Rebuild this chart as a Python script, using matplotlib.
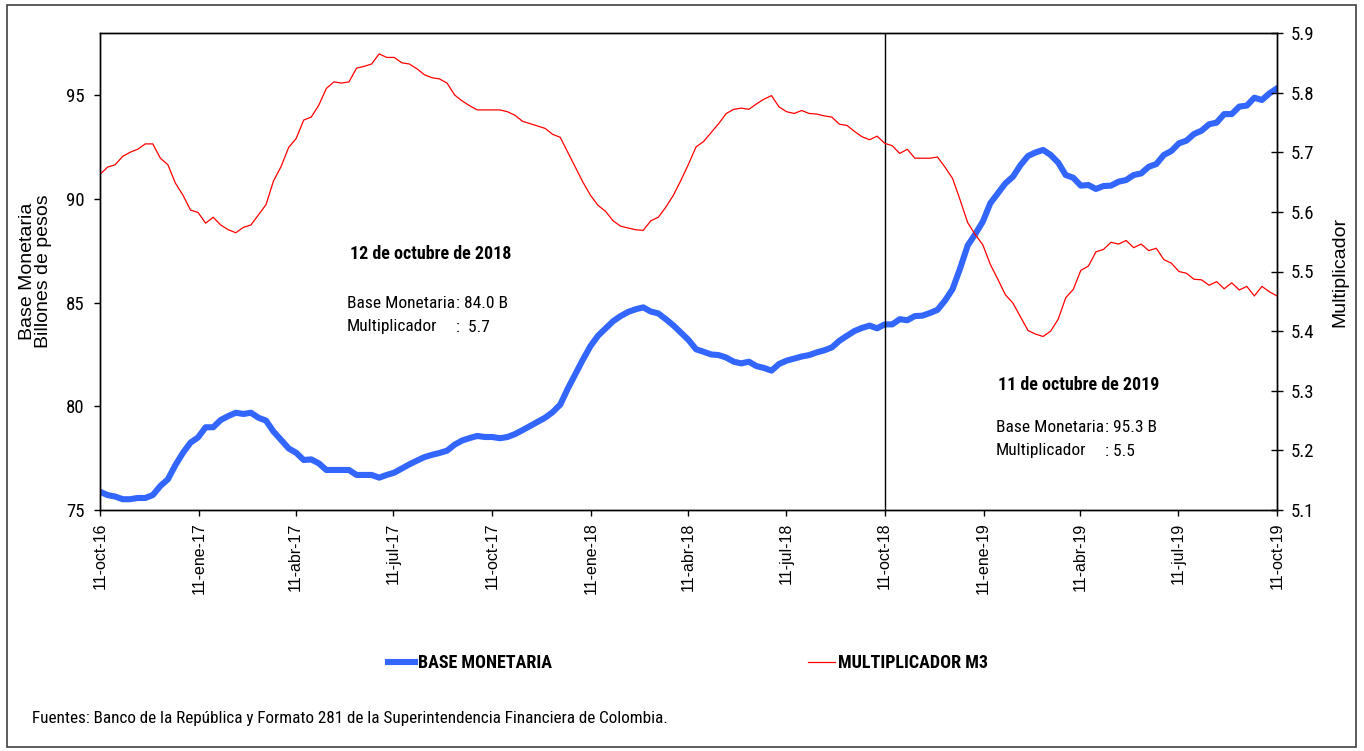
import matplotlib
matplotlib.use("Agg")
import pandas as pd
import matplotlib.pyplot as plt
from matplotlib.patches import Rectangle

# Base monetaria (billones de pesos), semanal oct-16 a oct-19
base_monetaria = [
    75.88, 75.72, 75.65, 75.52, 75.52, 75.58, 75.58, 75.72, 76.16, 76.48,
    77.17, 77.76, 78.25, 78.50, 78.99, 78.99, 79.34, 79.53, 79.69, 79.63,
    79.69, 79.45, 79.31, 78.78, 78.38, 77.97, 77.76, 77.41, 77.44, 77.25,
    76.93, 76.93, 76.93, 76.93, 76.69, 76.69, 76.69, 76.56, 76.69,
    76.80, 77.00, 77.20, 77.38, 77.55, 77.66, 77.75, 77.86, 78.15, 78.35,
    78.47, 78.57, 78.52, 78.52, 78.46, 78.52, 78.66, 78.85, 79.05, 79.25,
    79.45, 79.72, 80.08, 80.85, 81.55, 82.25, 82.90, 83.40, 83.75, 84.10,
    84.35, 84.55, 84.68, 84.77, 84.57, 84.48, 84.20, 83.90, 83.55,
    83.20, 82.75, 82.63, 82.50, 82.47, 82.35, 82.15, 82.07, 82.15, 81.94,
    81.85, 81.72, 82.04, 82.20, 82.30, 82.40, 82.47, 82.60, 82.70, 82.84,
    83.16, 83.40, 83.63, 83.78, 83.89, 83.76, 83.95, 83.95, 84.20, 84.15,
    84.35, 84.37, 84.50, 84.65, 85.10, 85.65, 86.65, 87.75, 88.30,
    88.90, 89.79, 90.27, 90.75, 91.07, 91.63, 92.07, 92.24, 92.36, 92.12,
    91.75, 91.15, 91.02, 90.64, 90.67, 90.48, 90.62, 90.64, 90.83, 90.91,
    91.15, 91.23, 91.55, 91.68, 92.12, 92.31, 92.68, 92.81, 93.13, 93.29,
    93.60, 93.68, 94.09, 94.09, 94.45, 94.50, 94.88, 94.77, 95.09, 95.33,
]

# Multiplicador M3
multiplicador = [
    5.663, 5.675, 5.679, 5.693, 5.700, 5.705, 5.714, 5.714, 5.690, 5.679,
    5.648, 5.628, 5.603, 5.599, 5.581, 5.591, 5.578, 5.570, 5.565, 5.574,
    5.578, 5.595, 5.612, 5.652, 5.676, 5.708, 5.723, 5.754, 5.759, 5.779,
    5.807, 5.818, 5.816, 5.818, 5.841, 5.844, 5.848, 5.865, 5.859,
    5.859, 5.850, 5.848, 5.840, 5.830, 5.825, 5.823, 5.816, 5.796, 5.786,
    5.778, 5.771, 5.771, 5.771, 5.771, 5.768, 5.762, 5.752, 5.748, 5.744,
    5.740, 5.730, 5.725, 5.700, 5.675, 5.650, 5.628, 5.611, 5.601, 5.585,
    5.576, 5.573, 5.570, 5.569, 5.585, 5.591, 5.608, 5.628, 5.653,
    5.680, 5.709, 5.718, 5.733, 5.748, 5.765, 5.772, 5.774, 5.772, 5.781,
    5.789, 5.795, 5.776, 5.768, 5.765, 5.770, 5.765, 5.764, 5.761, 5.759,
    5.747, 5.745, 5.735, 5.726, 5.721, 5.727, 5.715, 5.711, 5.698, 5.705,
    5.690, 5.690, 5.690, 5.692, 5.675, 5.656, 5.620, 5.582, 5.562,
    5.545, 5.512, 5.487, 5.461, 5.447, 5.424, 5.401, 5.395, 5.391, 5.400,
    5.420, 5.456, 5.470, 5.502, 5.509, 5.533, 5.537, 5.549, 5.546, 5.552,
    5.540, 5.546, 5.535, 5.539, 5.520, 5.514, 5.500, 5.497, 5.487, 5.486,
    5.477, 5.483, 5.471, 5.481, 5.469, 5.475, 5.459, 5.475, 5.466, 5.459,
]

tick_dates = ["2016-10-11", "2017-01-11", "2017-04-11", "2017-07-11",
              "2017-10-11", "2018-01-11", "2018-04-11", "2018-07-11",
              "2018-10-11", "2019-01-11", "2019-04-11", "2019-07-11",
              "2019-10-11"]
tick_labels = ["11-oct-16", "11-ene-17", "11-abr-17", "11-jul-17",
               "11-oct-17", "11-ene-18", "11-abr-18", "11-jul-18",
               "11-oct-18", "11-ene-19", "11-abr-19", "11-jul-19",
               "11-oct-19"]

fecha_corte = "2018-10-11"

NARROW = ["Roboto Condensed", "Liberation Sans", "DejaVu Sans"]
REGULAR = ["Liberation Sans", "DejaVu Sans"]

BLUE = "#3366ff"
RED = "#ff0000"

W, H = 1364, 751


def fx(px):
    return px / W


def fy(py):
    return 1 - py / H


fechas = pd.date_range("2016-10-11", "2019-10-11", periods=len(base_monetaria))

fig = plt.figure(figsize=(W / 100, H / 100), dpi=100)
ax = fig.add_axes([fx(100), fy(510), fx(1277) - fx(100), fy(33) - fy(510)])
ax2 = ax.twinx()

l1, = ax.plot(fechas, base_monetaria, color=BLUE, lw=4.4,
              solid_joinstyle="round", label="BASE MONETARIA")
l2, = ax2.plot(fechas, multiplicador, color=RED, lw=0.9,
               label="MULTIPLICADOR M3")
ax.axvline(pd.Timestamp(fecha_corte), color="black", lw=1.0)

ax.set_xlim(pd.Timestamp("2016-10-11"), pd.Timestamp("2019-10-11"))
ax.set_ylim(75, 98)
ax2.set_ylim(5.1, 5.9)

ax.set_yticks([75, 80, 85, 90, 95])
ax2.set_yticks([5.1, 5.2, 5.3, 5.4, 5.5, 5.6, 5.7, 5.8, 5.9])
ax2.set_yticklabels(["5.1", "5.2", "5.3", "5.4", "5.5", "5.6", "5.7", "5.8", "5.9"])
ax.set_xticks(pd.to_datetime(tick_dates))
ax.set_xticklabels(tick_labels, rotation=90, family=REGULAR, fontsize=11.5)

ax.tick_params(axis="y", direction="out", length=4, width=1, pad=7)
ax.tick_params(axis="x", direction="out", length=4, width=1, pad=5)
ax2.tick_params(axis="y", direction="inout", length=8, width=1, pad=6)
for lab in ax.get_yticklabels() + ax2.get_yticklabels():
    lab.set_family(NARROW)
    lab.set_fontsize(13.5)

for a in (ax, ax2):
    for s in a.spines.values():
        s.set_linewidth(1.0)
        s.set_color("black")

ax.set_ylabel("Base Monetaria\nBillones de pesos", family=REGULAR,
              fontsize=14, linespacing=0.95, labelpad=10)
ax2.set_ylabel("Multiplicador", family=REGULAR, fontsize=14, labelpad=12)

# anotaciones de fechas de corte
TXT = dict(family=NARROW, fontsize=12.5, va="center")
fig.text(fx(350), fy(254), "12 de octubre de 2018", family=NARROW,
         fontsize=13, va="center", fontweight="bold")
fig.text(fx(347), fy(303), "Base Monetaria", **TXT)
fig.text(fx(456), fy(303), ": 84.0 B", **TXT)
fig.text(fx(347), fy(327), "Multiplicador", **TXT)
fig.text(fx(456), fy(327), ":  5.7", **TXT)

fig.text(fx(998), fy(385), "11 de octubre de 2019", family=NARROW,
         fontsize=13, va="center", fontweight="bold")
fig.text(fx(996), fy(427), "Base Monetaria", **TXT)
fig.text(fx(1105), fy(427), ": 95.3 B", **TXT)
fig.text(fx(996), fy(451), "Multiplicador", **TXT)
fig.text(fx(1105), fy(451), ": 5.5", **TXT)

fig.legend(handles=[l1, l2], loc="center left", bbox_to_anchor=(fx(388), fy(663)),
           ncol=2, frameon=False, handlelength=1.5, handletextpad=0.15,
           columnspacing=14.2, borderpad=0, borderaxespad=0,
           prop={"family": NARROW, "weight": "bold", "size": 13})

fig.text(fx(32), fy(718),
         "Fuentes: Banco de la República y Formato 281 de la Superintendencia "
         "Financiera de Colombia.", family=NARROW, fontsize=12.3, va="center")

fig.patches.append(Rectangle((fx(7), fy(747)), fx(1356) - fx(7), fy(5) - fy(747),
                             transform=fig.transFigure, fill=False,
                             edgecolor="#404040", lw=1.2))

fig.savefig("out.png", dpi=100)
